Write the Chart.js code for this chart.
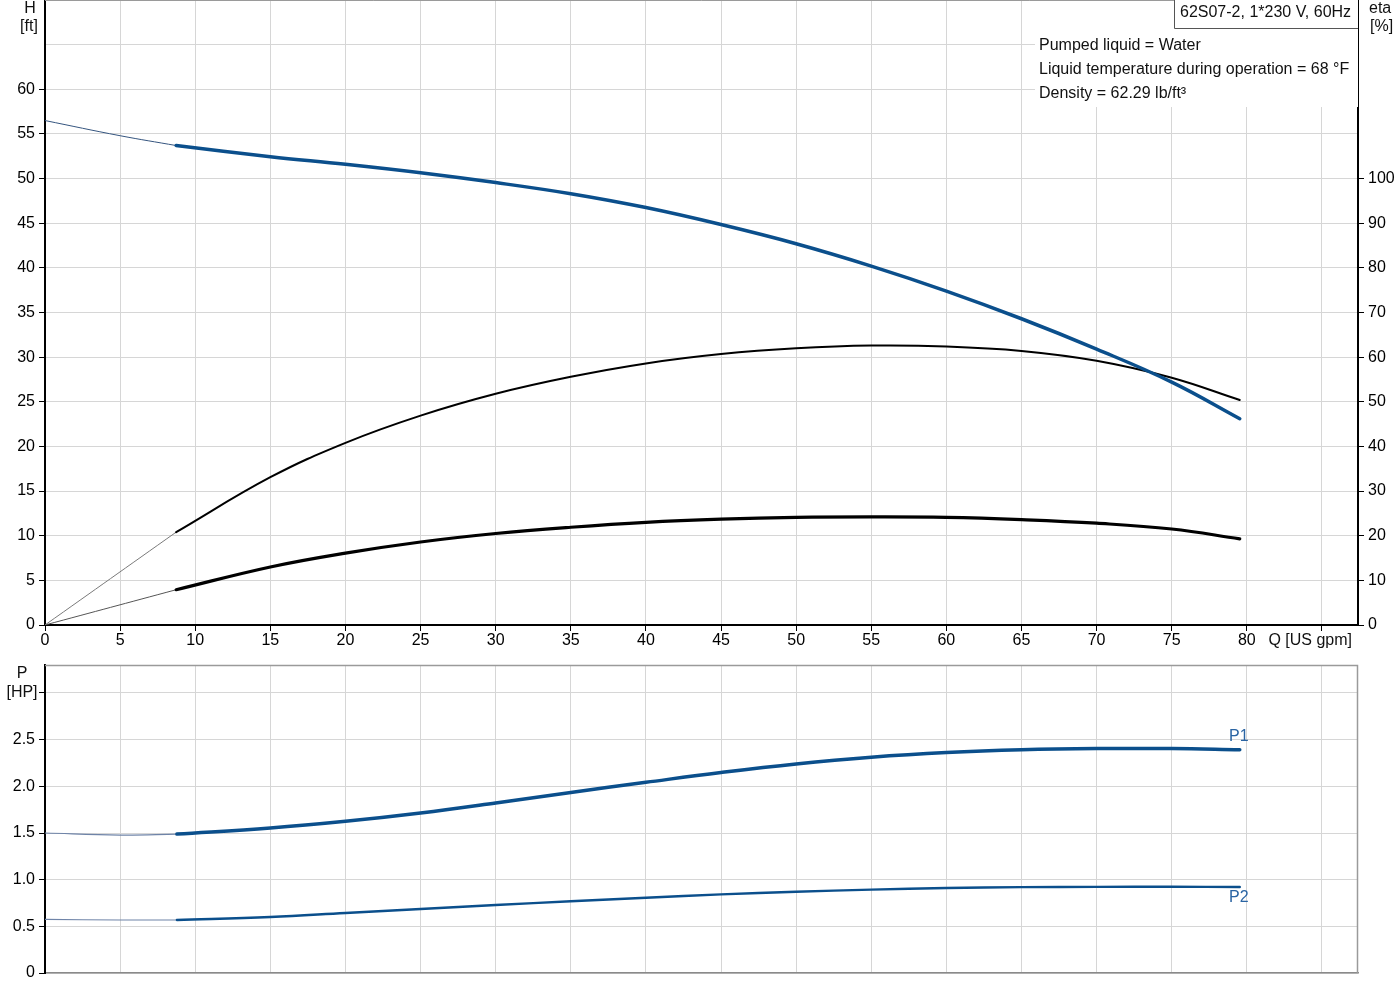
<!DOCTYPE html>
<html><head><meta charset="utf-8">
<script src="https://cdn.jsdelivr.net/npm/chart.js@4.4.0/dist/chart.umd.min.js"></script>
<style>
html,body{margin:0;padding:0;background:#fff;width:1400px;height:1000px;overflow:hidden}
#top{position:absolute;left:0;top:0}
#bot{position:absolute;left:0;top:650px}
</style></head><body>
<canvas id="top" width="1400" height="660"></canvas>
<canvas id="bot" width="1400" height="350"></canvas>
<script>
// ---- data ----
const qTicks = [0,5,10,15,20,25,30,35,40,45,50,55,60,65,70,75,80,85];
const hTicks = [0,5,10,15,20,25,30,35,40,45,50,55,60,65,70];
const etaTicks = [0,10,20,30,40,50,60,70,80,90,100,110,120,130,140];
const pTicks = [0,0.5,1.0,1.5,2.0,2.5,3.0];

const qHeadExt = [0, 5, 8.73];
const headExt = [56.5, 54.8, 53.7];
const qDuty = [8.73, 15, 20, 25, 30, 35, 40, 45, 50, 55, 60, 65, 70, 75, 79.53];
const head = [53.7, 52.45, 51.6, 50.65, 49.55, 48.3, 46.75, 44.85, 42.7, 40.2, 37.4, 34.3, 30.9, 27.2, 23.1];

const qEtaExt = [0, 8.73];
const etaPumpExt = [0, 20.8];
const etaPump = [20.8, 33.1, 40.8, 46.9, 51.8, 55.6, 58.6, 60.7, 62.0, 62.6, 62.4, 61.4, 59.2, 55.4, 50.4];
const etaTotalExt = [0, 7.9];
const etaTotal = [7.9, 13.0, 16.1, 18.6, 20.5, 21.9, 23.0, 23.7, 24.1, 24.2, 24.1, 23.6, 22.8, 21.5, 19.3];

const qPowerExt = [0, 5, 8.78];
const p1Ext = [1.50, 1.478, 1.488];
const p2Ext = [0.574, 0.568, 0.568];
const qPower = [8.78, 15, 20, 25, 30, 35, 40, 45, 50, 55, 60, 65, 70, 75, 79.53];
const p1 = [1.488, 1.553, 1.625, 1.714, 1.821, 1.935, 2.043, 2.148, 2.240, 2.312, 2.362, 2.392, 2.405, 2.405, 2.393];
const p2 = [0.568, 0.600, 0.643, 0.686, 0.729, 0.768, 0.807, 0.842, 0.870, 0.893, 0.910, 0.920, 0.923, 0.924, 0.921];

const titleText = '62S07-2, 1*230 V, 60Hz';
const infoLines = ['Pumped liquid = Water', 'Liquid temperature during operation = 68 °F', 'Density = 62.29 lb/ft³'];

// ---- styling ----
const BLUE = '#0b4f8c';
const GRID = '#d6d6d6';
const FONT = "'Liberation Sans', Arial, sans-serif";
Chart.defaults.font.family = FONT;
Chart.defaults.font.size = 16;
Chart.defaults.color = '#000';

const zip = (xs, ys) => xs.map((x, i) => ({x: x, y: ys[i]}));
const setTicks = arr => s => { s.ticks = arr.map(v => ({value: v})); };
const fitY = w => s => { s.width = w; s.paddingTop = 0; s.paddingBottom = 0; };
const fitX = h => s => { s.height = h; s.paddingLeft = 0; s.paddingRight = 0; };

const topDecor = {
  id: 'topDecor',
  beforeDatasetsDraw(chart) {
    const c = chart.ctx, a = chart.chartArea;
    c.save();
    c.fillStyle = '#fff';
    c.fillRect(1035, a.top + 1, a.right - 1035, 106);
    c.restore();
  },
  afterDraw(chart) {
    const c = chart.ctx, a = chart.chartArea;
    c.save();
    c.strokeStyle = '#9a9a9a'; c.lineWidth = 1;
    c.beginPath(); c.moveTo(a.left, a.top + 0.5); c.lineTo(a.right, a.top + 0.5); c.stroke();
    c.fillStyle = '#fff';
    c.fillRect(1174, a.top, a.right - 1174, 28);
    c.strokeStyle = '#555'; c.lineWidth = 1;
    c.beginPath(); c.moveTo(1174.5, a.top); c.lineTo(1174.5, 28.5); c.lineTo(a.right, 28.5); c.stroke();
    c.font = '16px ' + FONT; c.fillStyle = '#111'; c.textBaseline = 'middle';
    c.textAlign = 'left';
    c.fillText(titleText, 1180, 13);
    infoLines.forEach((t, i) => c.fillText(t, 1039, 46 + i * 24));
    c.textAlign = 'center';
    c.fillText('H', 30, 9);
    c.fillText('[ft]', 29, 27);
    c.textAlign = 'left';
    c.fillText('eta', 1369, 9);
    c.fillText('[%]', 1370, 27);
    c.textAlign = 'right';
    c.fillText('Q [US gpm]', 1352, 641);
    c.restore();
  }
};

const botDecor = {
  id: 'botDecor',
  afterDraw(chart) {
    const c = chart.ctx, a = chart.chartArea;
    const xs = chart.scales.x, ys = chart.scales.y;
    c.save();
    c.strokeStyle = '#9a9a9a'; c.lineWidth = 1.5;
    c.beginPath(); c.moveTo(a.left, a.top + 0.5); c.lineTo(a.right - 0.5, a.top + 0.5); c.lineTo(a.right - 0.5, a.bottom); c.stroke();
    c.font = '16px ' + FONT; c.textBaseline = 'middle'; c.textAlign = 'center';
    c.fillStyle = '#111';
    c.fillText('P', 22, 24);
    c.fillText('[HP]', 22, 43);
    c.fillStyle = '#2a64a3';
    const lx = xs.getPixelForValue(qPower[qPower.length - 1]);
    c.fillText('P1', lx - 1, ys.getPixelForValue(p1[p1.length - 1]) - 13);
    c.fillText('P2', lx - 1, ys.getPixelForValue(p2[p2.length - 1]) + 11);
    c.restore();
  }
};

const common = {
  responsive: false, animation: false, devicePixelRatio: 1,
  plugins: {legend: {display: false}, tooltip: {enabled: false}},
  elements: {point: {radius: 0}, line: {tension: 0.4, fill: false, borderCapStyle: 'round'}}
};

new Chart(document.getElementById('top'), {
  type: 'line',
  data: {datasets: [
    {data: zip(qDuty, head), borderColor: BLUE, borderWidth: 3.5, yAxisID: 'y'},
    {data: zip(qHeadExt, headExt), borderColor: '#35557f', borderWidth: 1, yAxisID: 'y'},
    {data: zip(qDuty, etaPump), borderColor: '#000', borderWidth: 2, yAxisID: 'y2'},
    {data: zip(qEtaExt, etaPumpExt), borderColor: '#7a7a7a', borderWidth: 1, yAxisID: 'y2'},
    {data: zip(qDuty, etaTotal), borderColor: '#000', borderWidth: 3.2, yAxisID: 'y2'},
    {data: zip(qEtaExt, etaTotalExt), borderColor: '#555', borderWidth: 1, yAxisID: 'y2'}
  ]},
  options: Object.assign({}, common, {
    layout: {padding: {top: 0, left: 0, right: 0, bottom: 0}},
    scales: {
      x: {type: 'linear', min: 0, max: 87.4, afterBuildTicks: setTicks(qTicks),
          afterFit: fitX(35),
          grid: {color: GRID, tickColor: '#000', tickLength: 6},
          border: {color: '#000', width: 2},
          ticks: {padding: 0, maxRotation: 0, autoSkip: false, callback: v => v <= 80 ? String(v) : ''}},
      y: {position: 'left', min: 0, max: 70, afterBuildTicks: setTicks(hTicks),
          afterFit: fitY(45),
          grid: {color: GRID, tickLength: 6,
                 tickColor: ctx => (ctx.tick && ctx.tick.value > 60) ? 'rgba(0,0,0,0)' : '#000'},
          border: {color: '#000', width: 2},
          ticks: {padding: 4, autoSkip: false, callback: v => v <= 60 ? String(v) : ''}},
      y2: {position: 'right', min: 0, max: 140, afterBuildTicks: setTicks(etaTicks),
          afterFit: fitY(42),
          grid: {drawOnChartArea: false, tickLength: 6,
                 tickColor: ctx => (ctx.tick && ctx.tick.value > 100) ? 'rgba(0,0,0,0)' : '#000'},
          border: {color: '#000', width: 2},
          ticks: {padding: 4, autoSkip: false, callback: v => v <= 100 ? String(v) : ''}}
    }
  }),
  plugins: [topDecor]
});

new Chart(document.getElementById('bot'), {
  type: 'line',
  data: {datasets: [
    {data: zip(qPower, p1), borderColor: BLUE, borderWidth: 3.5, yAxisID: 'y'},
    {data: zip(qPowerExt, p1Ext), borderColor: '#6f84a8', borderWidth: 1.2, yAxisID: 'y'},
    {data: zip(qPower, p2), borderColor: BLUE, borderWidth: 2.4, yAxisID: 'y'},
    {data: zip(qPowerExt, p2Ext), borderColor: '#6f84a8', borderWidth: 1.2, yAxisID: 'y'}
  ]},
  options: Object.assign({}, common, {
    layout: {padding: {top: 15, left: 0, right: 42, bottom: 0}},
    scales: {
      x: {type: 'linear', min: 0, max: 87.4, afterBuildTicks: setTicks(qTicks),
          afterFit: fitX(27),
          grid: {color: GRID, drawTicks: false},
          border: {color: '#8a8a8a', width: 1.5},
          ticks: {display: false}},
      y: {position: 'left', min: 0, max: 3.3, afterBuildTicks: setTicks(pTicks),
          afterFit: fitY(45),
          grid: {color: GRID, tickLength: 6, tickColor: '#000'},
          border: {color: '#000', width: 2},
          ticks: {padding: 4, autoSkip: false,
                  callback: v => v > 2.5 ? '' : (v === 0 ? '0' : v.toFixed(1))}}
    }
  }),
  plugins: [botDecor]
});
</script>
</body></html>
